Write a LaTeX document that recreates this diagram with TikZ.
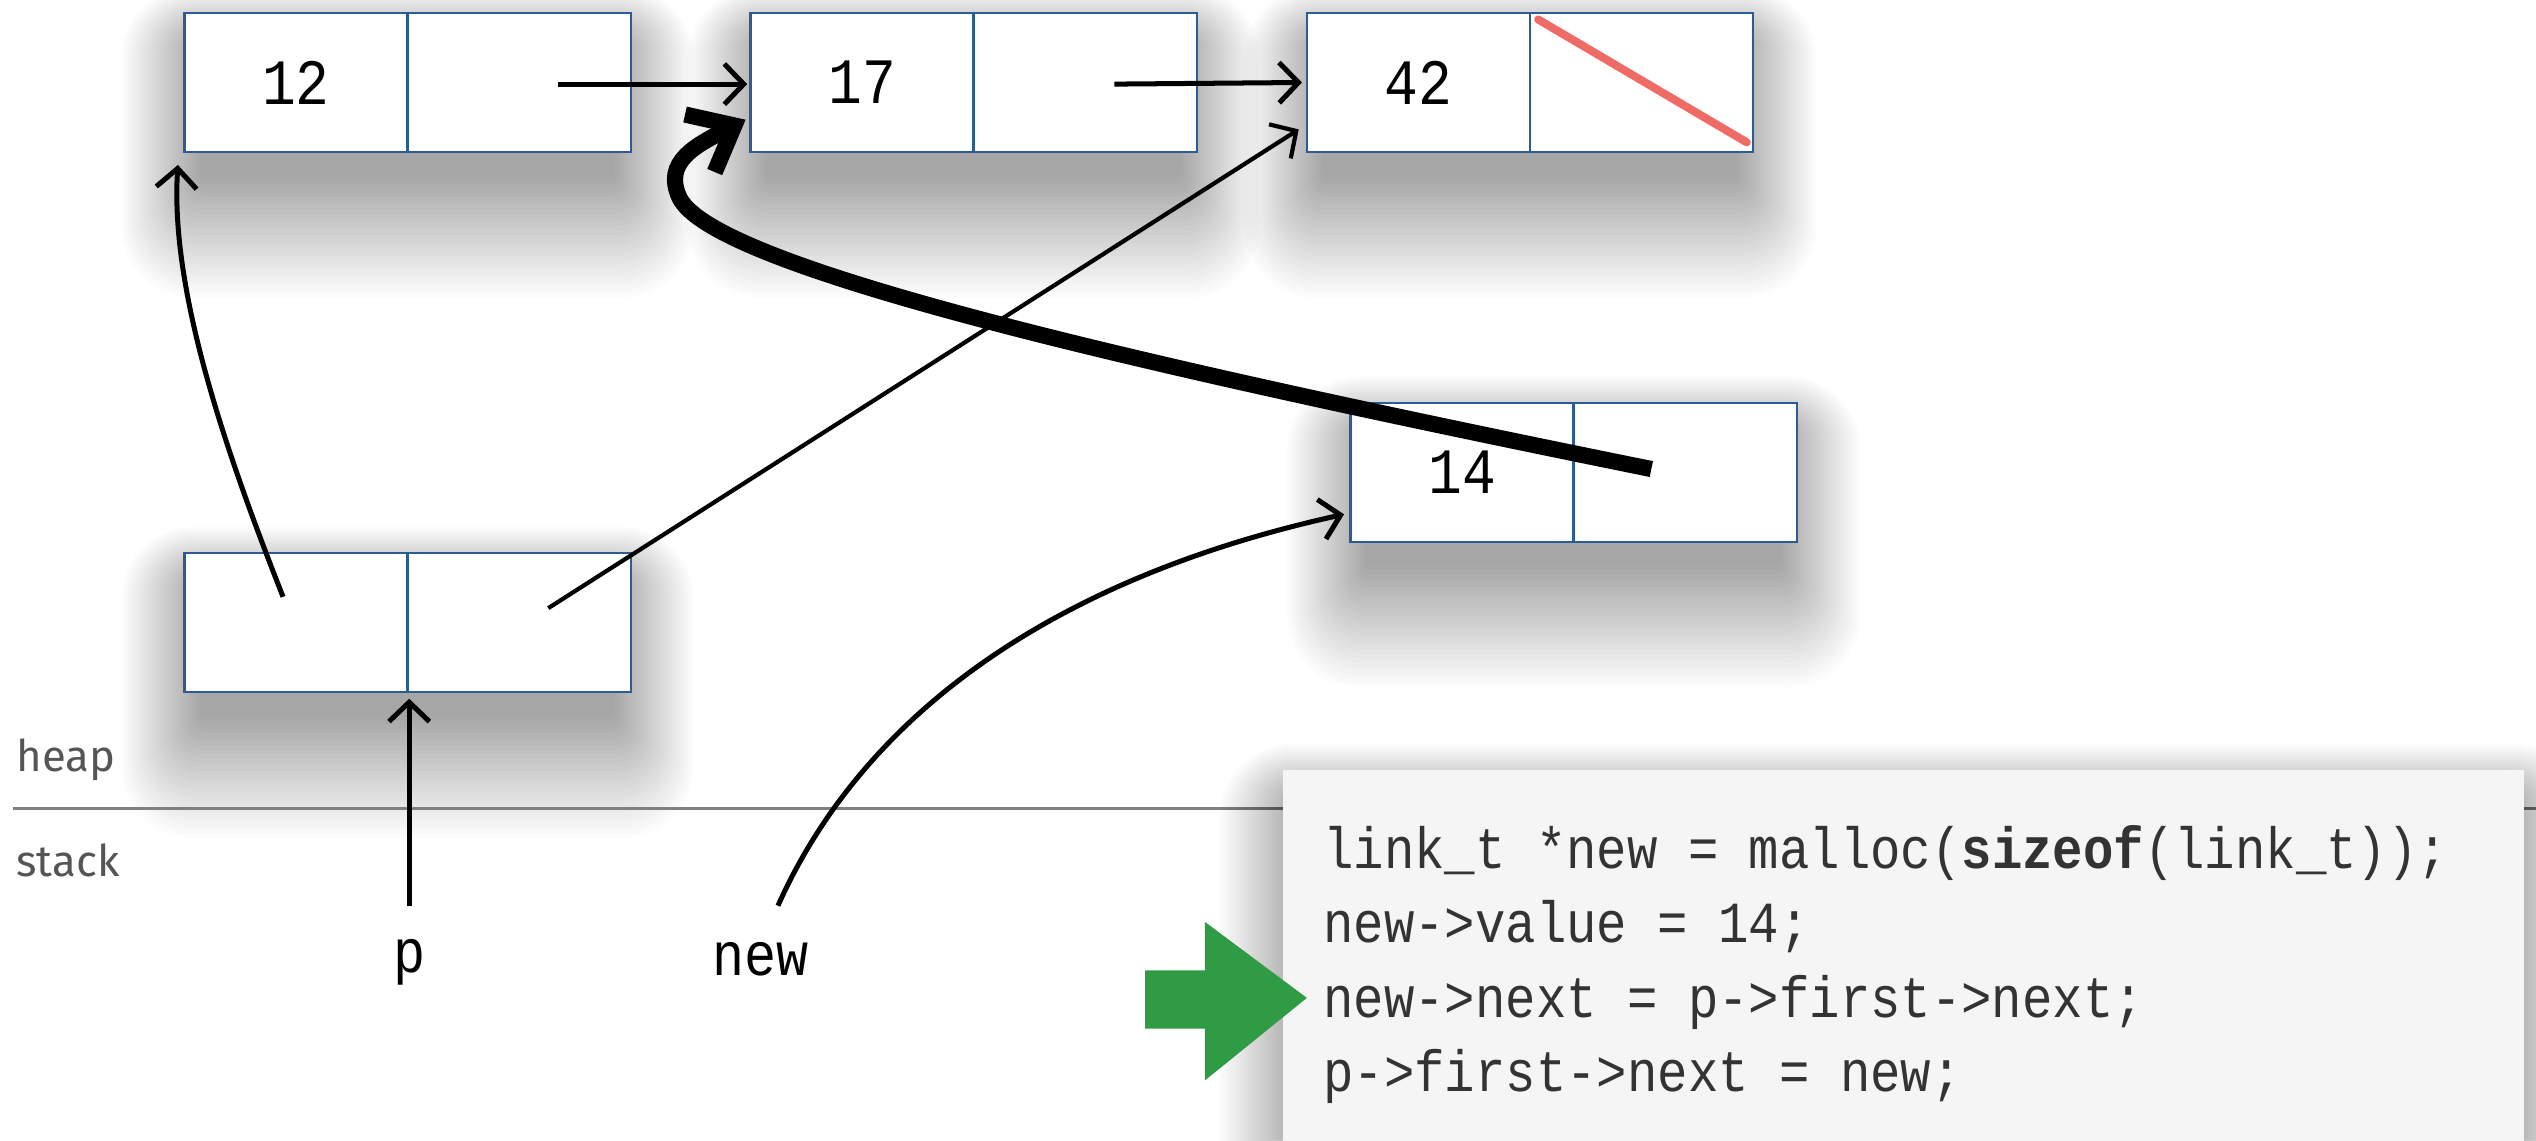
\documentclass[tikz,border=0pt]{standalone}
\usepackage{fontspec}
\setmainfont{Fira Sans}
\newfontfamily\codefont{Liberation Mono}[FakeStretch=0.87]
\usetikzlibrary{arrows.meta,calc}
\definecolor{boxblue}{HTML}{2B5C95}
\definecolor{codebg}{HTML}{F5F5F5}
\definecolor{arrowgreen}{HTML}{2F9B45}
\definecolor{strike}{HTML}{EE5C55}
\definecolor{labelgray}{HTML}{555555}
\newcommand\softshadowat[1]{%
  \foreach \i in {1,...,30}{%
    \fill[black,opacity=0.012,rounded corners=1.5*\i pt]
      ($(#1.north west)+(-1.7*\i+12,-1.2*\i+20)$) rectangle ($(#1.south east)+(1.7*\i-12,2.6*\i+12)$);
  }}
\begin{document}
\begin{tikzpicture}[x=1pt,y=-1pt,
  boxbg/.style={minimum width=276pt,minimum height=86pt,inner sep=0pt},
  cell/.style={draw=boxblue,fill=white,line width=1.5pt,minimum width=138pt,minimum height=86pt,inner sep=0pt,font=\codefont\fontsize{40}{40}\selectfont},
  ptr/.style={line width=3.1pt,-{Straight Barb[length=12pt,width=25pt]}},
  bigptr/.style={line width=10pt,-{Straight Barb[length=24pt,width=40pt]}},
  varlabel/.style={font=\codefont\fontsize{38}{38}\selectfont},
  arealabel/.style={font=\fontsize{27}{27}\selectfont,text=labelgray,anchor=west,inner sep=0pt},
  codeline/.style={font=\codefont\fontsize{36}{36}\selectfont,text=black!80,anchor=base west,inner sep=0pt}]
\useasboundingbox (0,0) rectangle (1568,705);
\fill[white] (0,0) rectangle (1568,705);

% box footprints (for shadows)
\node[boxbg] (bg1) at (252,51) {};
\node[boxbg] (bg2) at (602,51) {};
\node[boxbg] (bg3) at (946,51) {};
\node[boxbg] (bg4) at (973,292) {};
\node[boxbg] (bg5) at (252,385) {};
\softshadowat{bg1}
\softshadowat{bg2}
\softshadowat{bg3}
\softshadowat{bg4}
\softshadowat{bg5}

% heap / stack separator
\coordinate (sepL) at (8,500);
\coordinate (sepR) at (1568,500);
\draw[gray,line width=1.5pt] (sepL) -- (sepR);
\node[arealabel] (heap) at (10,470) {heap};
\node[arealabel] (stack) at (10,532) {stack};

% cells
\node[cell] (b1v) at (183,51) {12};
\node[cell] (b1n) at (321,51) {};
\node[cell] (b2v) at (533,51) {17};
\node[cell] (b2n) at (671,51) {};
\node[cell] (b3v) at (877,51) {42};
\node[cell] (b3n) at (1015,51) {};
\node[cell] (b4v) at (904,292) {14};
\node[cell] (b4n) at (1042,292) {};
\node[cell] (b5v) at (183,385) {};
\node[cell] (b5n) at (321,385) {};

% NULL strike
\coordinate (nullA) at (951,12);
\coordinate (nullB) at (1080,88);
\draw[strike,line width=5pt,line cap=round,opacity=0.9] (nullA) -- (nullB);

% stack variables
\node[varlabel] (p) at (253,595) {p};
\node[varlabel] (new) at (470,593) {new};

% pointer origins
\coordinate (o1) at (345,52);
\coordinate (o2) at (689,52);
\coordinate (o5v) at (175,369);
\coordinate (o5n) at (339,376);
\coordinate (op) at (253,560);
\coordinate (onew) at (481,560);
\coordinate (o4n) at (1021,290);

% targets
\coordinate (t2) at (462,52);
\coordinate (t3) at (805,51);
\coordinate (t1) at (110,102);
\coordinate (t3b) at (803,80);
\coordinate (t5) at (253,432);
\coordinate (t4) at (831,318);
\coordinate (t2b) at (461,74);

\draw[ptr] (o1) -- (t2);
\draw[ptr] (o2) -- (t3);
\draw[ptr] (o5v) .. controls (140,280) and (105,180) .. (t1);
\draw[ptr,line width=2.6pt] (o5n) -- (t3b);
\draw[ptr] (op) -- (t5);
\draw[ptr] (onew) .. controls (530,450) and (640,360) .. (t4);
\draw[bigptr] (o4n) .. controls (700,225) and (440,165) .. (420,122)
   .. controls (410,100) and (430,90) .. (t2b);

% code box
\node[minimum width=767pt,minimum height=250pt,inner sep=0pt,anchor=north west] (codebox) at (793,476) {};
\softshadowat{codebox}
\fill[codebg] (codebox.north west) rectangle (codebox.south east);
\node[codeline] (l1) at (818,537) {link\_t *new = malloc(\textbf{sizeof}(link\_t));};
\node[codeline] (l2) at (818,583) {new->value = 14;};
\node[codeline] (l3) at (818,629) {new->next = p->first->next;};
\node[codeline] (l4) at (818,675) {p->first->next = new;};

% current-line marker
\fill[arrowgreen] (708,600) -- (745,600) -- (745,570) -- (808,617) -- (745,668) -- (745,636) -- (708,636) -- cycle;
\end{tikzpicture}
\end{document}
